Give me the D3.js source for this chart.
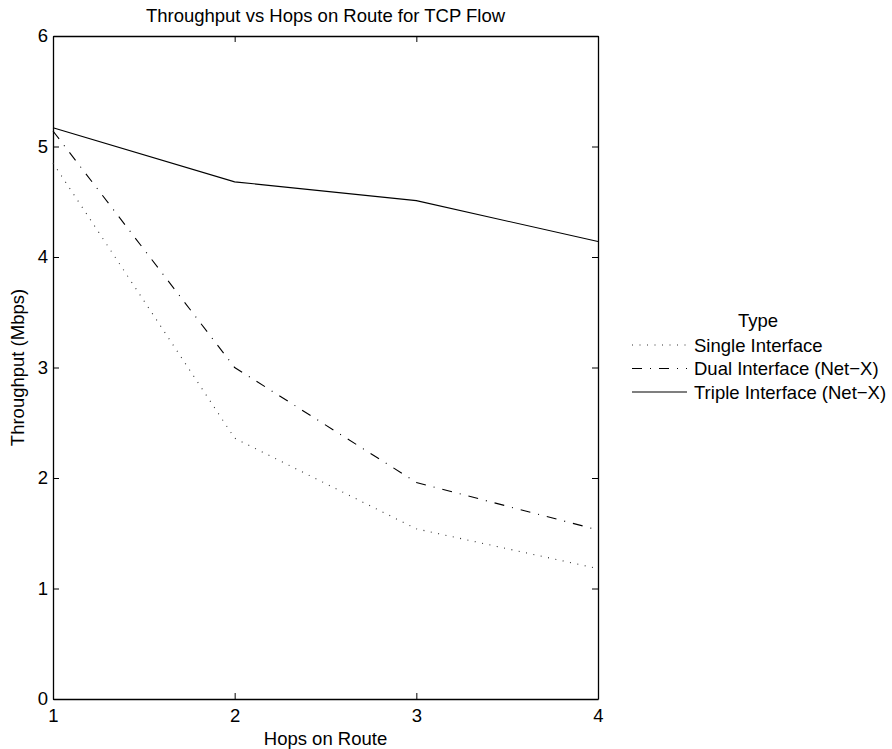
<!DOCTYPE html>
<html>
<head>
<meta charset="utf-8">
<script src="https://cdn.jsdelivr.net/npm/d3@7"></script>
<style>
  html, body { margin: 0; padding: 0; background: #fff; }
  svg text { font-family: "Liberation Sans", Arial, Helvetica, sans-serif; fill: #000; }
</style>
</head>
<body>
<svg id="chart" width="892" height="749"></svg>
<script>
const hops = [1, 2, 3, 4];
const xTicks = [1, 2, 3, 4];
const yTicks = [0, 1, 2, 3, 4, 5, 6];
const seriesNames = ["Single Interface", "Dual Interface (Net\u2212X)", "Triple Interface (Net\u2212X)"];
const singleVals = [4.85, 2.36, 1.54, 1.18];
const dualVals = [5.14, 3.00, 1.96, 1.53];
const tripleVals = [5.17, 4.68, 4.51, 4.14];

const seriesStyles = [
  { dash: "1,6.5", color: "#333" },
  { dash: "10,8,1,8", color: "#000" },
  { dash: null, color: "#000" }
];
const seriesData = [singleVals, dualVals, tripleVals];

const FS = 18.5;
const svg = d3.select("#chart");
const L = 53, R = 598, T = 36, B = 699;
const x = d3.scaleLinear().domain([1, 4]).range([L, R]);
const y = d3.scaleLinear().domain([0, 6]).range([B, T]);

// axes
function styleAxis(g, showLabels) {
  g.selectAll("path.domain").attr("stroke", "#000").attr("stroke-width", 1.3);
  g.selectAll(".tick line").attr("stroke", "#000").attr("stroke-width", 1);
  g.selectAll(".tick text").style("font-size", FS + "px").attr("fill", "#000");
  if (!showLabels) g.selectAll(".tick text").remove();
}
svg.append("g").attr("transform", `translate(0,${B})`)
  .call(d3.axisBottom(x).tickValues(xTicks).tickFormat(d3.format("d")).tickSize(-6).tickSizeOuter(0).tickPadding(10))
  .call(g => styleAxis(g, true));
svg.append("g").attr("transform", `translate(0,${T})`)
  .call(d3.axisTop(x).tickValues(xTicks).tickSize(-6).tickSizeOuter(0))
  .call(g => styleAxis(g, false));
svg.append("g").attr("transform", `translate(${L},0)`)
  .call(d3.axisLeft(y).tickValues(yTicks).tickFormat(d3.format("d")).tickSize(-6).tickSizeOuter(0).tickPadding(5))
  .call(g => styleAxis(g, true));
svg.append("g").attr("transform", `translate(${R},0)`)
  .call(d3.axisRight(y).tickValues(yTicks).tickSize(-6).tickSizeOuter(0))
  .call(g => styleAxis(g, false));

// lines
const line = d3.line().x((d, i) => x(hops[i])).y(d => y(d));
seriesData.forEach((vals, i) => {
  svg.append("path")
    .datum(vals)
    .attr("d", line)
    .attr("fill", "none")
    .attr("stroke", seriesStyles[i].color)
    .attr("stroke-width", 1.1)
    .attr("stroke-dasharray", seriesStyles[i].dash);
});

// title and labels
svg.append("text").attr("x", (L + R) / 2).attr("y", 21.5)
  .attr("text-anchor", "middle").style("font-size", FS + "px")
  .text("Throughput vs Hops on Route for TCP Flow");
svg.append("text").attr("x", (L + R) / 2).attr("y", 745)
  .attr("text-anchor", "middle").style("font-size", FS + "px")
  .text("Hops on Route");
svg.append("text").attr("transform", `translate(24,${(T + B) / 2}) rotate(-90)`)
  .attr("text-anchor", "middle").style("font-size", FS + "px")
  .text("Throughput (Mbps)");

// legend
const lg = svg.append("g");
lg.append("text").attr("x", 758).attr("y", 327).attr("text-anchor", "middle")
  .style("font-size", FS + "px").text("Type");
seriesNames.forEach((name, i) => {
  const cy = 345 + i * 23.5;
  lg.append("line").attr("x1", 632).attr("x2", 687).attr("y1", cy).attr("y2", cy)
    .attr("stroke", seriesStyles[i].color).attr("stroke-width", 1.1)
    .attr("stroke-dasharray", seriesStyles[i].dash);
  lg.append("text").attr("x", 694).attr("y", cy + 6.5)
    .style("font-size", FS + "px").text(name);
});
</script>
</body>
</html>
